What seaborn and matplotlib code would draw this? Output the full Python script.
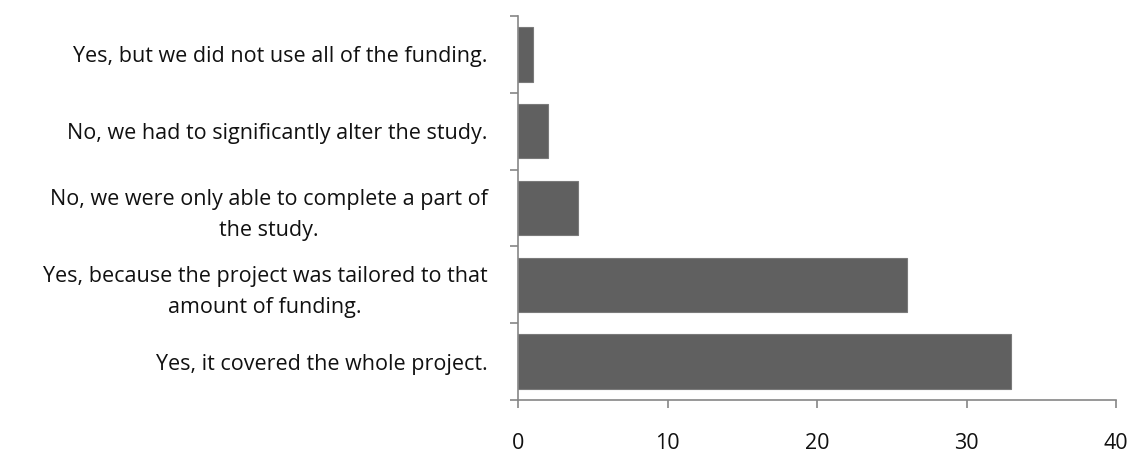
import numpy as np
import matplotlib
matplotlib.use("Agg")
import matplotlib.pyplot as plt
import pandas as pd
import seaborn as sns

categories = [
    "Yes, but we did not use all of the funding.",
    "No, we had to significantly alter the study.",
    "No, we were only able to complete a part of\nthe study.",
    "Yes, because the project was tailored to that\namount of funding.",
    "Yes, it covered the whole project.",
]
counts = [1, 2, 4, 26, 33]
x_ticks = [0, 10, 20, 30, 40]

df = pd.DataFrame({"answer": categories, "count": counts})

sns.set_theme(style="white")
plt.rcParams["font.family"] = ["Open Sans", "DejaVu Sans"]

fig = plt.figure(figsize=(11.34, 4.5), dpi=100)
ax = fig.add_axes([518 / 1134, 1 - 400 / 450, (1116 - 518) / 1134, (400 - 16) / 450])

sns.barplot(data=df, y="answer", x="count", orient="h", color="#606060",
            saturation=1, width=0.71, edgecolor="#7a7a7a", linewidth=0.8, ax=ax)

ax.set_xlim(0, 40)
ax.set_ylim(len(categories) - 0.5, -0.5)
ax.set_xticks(x_ticks)
ax.set_xlabel("")
ax.set_ylabel("")

# tick marks sit between categories, labels stay centered
ax.set_yticks(np.arange(-0.5, len(categories)), minor=True)
ax.tick_params(axis="y", which="major", length=0, pad=22, labelsize=15.5, labelcolor="#111111")
ax.tick_params(axis="y", which="minor", left=True, length=6, width=1.2, color="#868686")
ax.tick_params(axis="x", which="major", bottom=True, length=6, width=1.2,
               color="#868686", pad=18, labelsize=15.5, labelcolor="#111111")
for lab in ax.get_yticklabels():
    lab.set_multialignment("center")
    lab.set_linespacing(1.6)

for side in ["top", "right"]:
    ax.spines[side].set_visible(False)
for side in ["left", "bottom"]:
    ax.spines[side].set_color("#868686")
    ax.spines[side].set_linewidth(1.2)

fig.savefig("out.png", dpi=100)
